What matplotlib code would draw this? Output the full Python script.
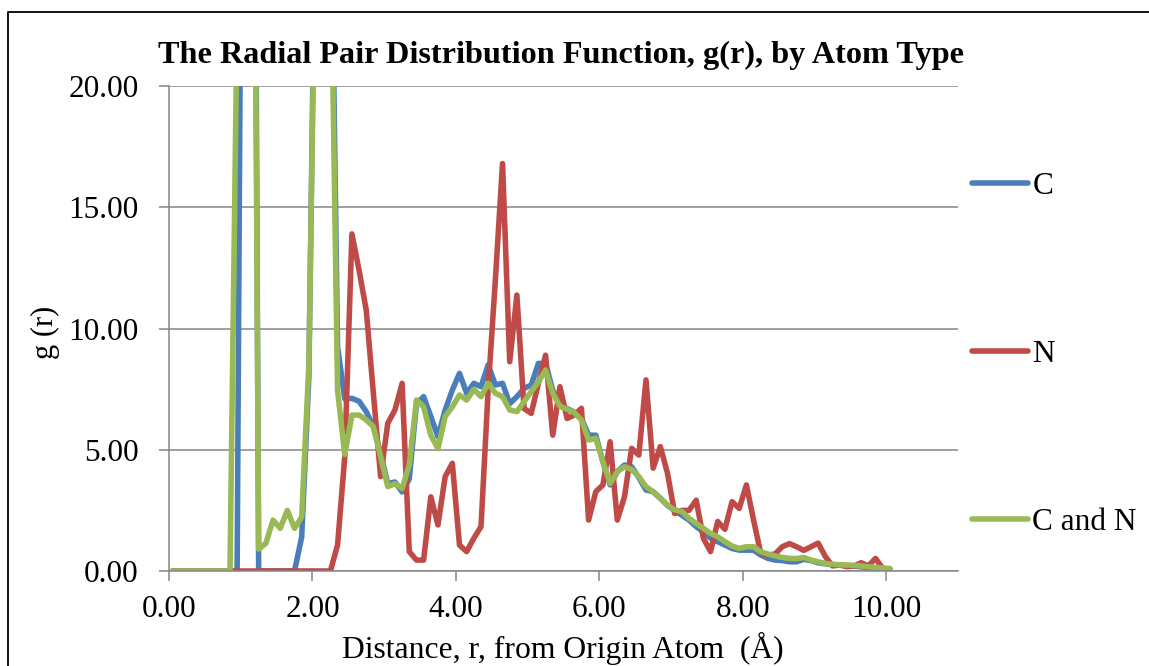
import matplotlib
matplotlib.use("Agg")
import matplotlib.pyplot as plt
from matplotlib.lines import Line2D

# distance bins (Angstrom)
r = [0.05, 0.15, 0.25, 0.35, 0.45, 0.55, 0.65, 0.75, 0.85, 0.95,
     1.05, 1.15, 1.25, 1.35, 1.45, 1.55, 1.65, 1.75, 1.85, 1.95,
     2.05, 2.15, 2.25, 2.35, 2.45, 2.55, 2.65, 2.75, 2.85, 2.95,
     3.05, 3.15, 3.25, 3.35, 3.45, 3.55, 3.65, 3.75, 3.85, 3.95,
     4.05, 4.15, 4.25, 4.35, 4.45, 4.55, 4.65, 4.75, 4.85, 4.95,
     5.05, 5.15, 5.25, 5.35, 5.45, 5.55, 5.65, 5.75, 5.85, 5.95,
     6.05, 6.15, 6.25, 6.35, 6.45, 6.55, 6.65, 6.75, 6.85, 6.95,
     7.05, 7.15, 7.25, 7.35, 7.45, 7.55, 7.65, 7.75, 7.85, 7.95,
     8.05, 8.15, 8.25, 8.35, 8.45, 8.55, 8.65, 8.75, 8.85, 8.95,
     9.05, 9.15, 9.25, 9.35, 9.45, 9.55, 9.65, 9.75, 9.85, 9.95,
     10.05]

g_c = [0, 0, 0, 0, 0, 0, 0, 0, 0, 0,
       50, 60, 0, 0, 0, 0, 0, 0, 1.4, 8,
       30, 50, 30, 9.25, 7.1, 7.12, 7.0, 6.57, 5.95, 4.85,
       3.6, 3.67, 3.26, 3.8, 6.9, 7.19, 6.37, 5.54, 6.64, 7.46,
       8.15, 7.33, 7.74, 7.6, 8.5, 7.67, 7.74, 6.9, 7.19, 7.53,
       7.67, 8.56, 8.56, 7.46, 6.8, 6.7, 6.55, 6.3, 5.6, 5.6,
       4.5, 3.55, 4.1, 4.37, 4.3, 3.85, 3.34, 3.27, 3.0, 2.7,
       2.5, 2.3, 2.1, 1.83, 1.62, 1.35, 1.21, 1.07, 0.93, 0.86,
       0.86, 0.86, 0.66, 0.52, 0.45, 0.43, 0.38, 0.38, 0.48, 0.43,
       0.34, 0.3, 0.26, 0.24, 0.22, 0.2, 0.17, 0.14, 0.12, 0.1,
       0.08]

g_n = [0, 0, 0, 0, 0, 0, 0, 0, 0, 0,
       0, 0, 0, 0, 0, 0, 0, 0, 0, 0,
       0, 0, 0, 1.07, 4.7, 13.9, 12.4, 10.76, 7.3, 3.89,
       6.09, 6.64, 7.74, 0.8, 0.45, 0.45, 3.06, 1.9, 3.89, 4.44,
       1.07, 0.8, 1.35, 1.83, 7.5, 12.0, 16.8, 8.63, 11.38, 6.7,
       6.5, 7.74, 8.9, 5.6, 7.6, 6.29, 6.43, 6.71, 2.1, 3.27,
       3.55, 5.33, 2.1, 3.06, 5.06, 4.78, 7.88, 4.24, 5.13, 4.03,
       2.37, 2.5, 2.5, 2.92, 1.35, 0.8, 2.04, 1.72, 2.86, 2.58,
       3.55, 2.1, 0.73, 0.66, 0.7, 1.0, 1.13, 1.0, 0.85, 1.0,
       1.15, 0.6, 0.21, 0.25, 0.18, 0.21, 0.34, 0.21, 0.52, 0.11,
       0.07]

g_cn = [0, 0, 0, 0, 0, 0, 0, 0, 0, 23,
        60, 50, 0.9, 1.14, 2.1, 1.76, 2.5, 1.76, 2.23, 8.5,
        28, 45, 27, 7.46, 4.8, 6.43, 6.43, 6.23, 5.95, 4.72,
        3.48, 3.6, 3.4, 4.37, 7.05, 6.77, 5.6, 5.05, 6.37, 6.77,
        7.26, 7.05, 7.49, 7.19, 7.74, 7.33, 7.19, 6.64, 6.57, 6.98,
        7.4, 7.8, 8.29, 7.33, 6.8, 6.67, 6.53, 6.23, 5.4, 5.47,
        4.51, 3.61, 4.1, 4.3, 4.19, 3.89, 3.48, 3.27, 3.0, 2.72,
        2.52, 2.45, 2.17, 1.96, 1.76, 1.55, 1.41, 1.21, 1.03, 0.93,
        1.0, 1.0, 0.79, 0.7, 0.62, 0.56, 0.52, 0.51, 0.56, 0.45,
        0.38, 0.31, 0.28, 0.25, 0.25, 0.23, 0.21, 0.18, 0.15, 0.12,
        0.1]

series_names = ["C", "N", "C and N"]
x_ticks = [0, 2, 4, 6, 8, 10]
y_ticks = [0, 5, 10, 15, 20]

plt.rcParams["font.family"] = ["Liberation Serif", "DejaVu Serif"]

fig = plt.figure(figsize=(11.49, 6.66), dpi=100)
ax = fig.add_axes([169 / 1149, 95 / 666, 789 / 1149, 485 / 666])

colors = ["#4A7EBB", "#BE4B48", "#98B954"]
for ys, name, col in zip([g_c, g_n, g_cn], series_names, colors):
    ax.plot(r, ys, color=col, lw=4.0, label=name,
            solid_joinstyle="round", solid_capstyle="round")

ax.set_xlim(0, 11)
ax.set_ylim(0, 20)
ax.set_xticks(x_ticks)
ax.set_yticks(y_ticks)
ax.set_xticklabels([f"{v:.2f}" for v in x_ticks])
ax.set_yticklabels([f"{v:.2f}" for v in y_ticks])

grid_col = "#868686"
ax.grid(axis="y", color=grid_col, lw=1.1)
ax.set_axisbelow(True)
for s in ["top", "right"]:
    ax.spines[s].set_visible(False)
for s in ["left", "bottom"]:
    ax.spines[s].set_color(grid_col)
    ax.spines[s].set_linewidth(1.1)
ax.tick_params(axis="both", colors=grid_col, length=7, width=1.1,
               labelsize=22.5, labelcolor="black")
ax.tick_params(axis="y", pad=15)
ax.tick_params(axis="x", pad=10)

fig.text(561 / 1149, 1 - 63.5 / 666,
         "The Radial Pair Distribution Function, g(r), by Atom Type",
         ha="center", va="baseline", fontsize=23.2, fontweight="bold")
fig.text(563 / 1149, 1 - 658 / 666, "Distance, r, from Origin Atom  (Å)",
         ha="center", va="baseline", fontsize=22.8)
fig.text(45 / 1149, 1 - 332 / 666, "g (r)", rotation=90,
         ha="center", va="center", fontsize=22)

ax.legend(loc="upper left", bbox_to_anchor=(972 / 1149, 1 - 172 / 666),
          bbox_transform=fig.transFigure, frameon=False, fontsize=22.5,
          handlelength=1.8, handletextpad=0.13, labelspacing=4.45,
          borderpad=0, borderaxespad=0)

# chart-area border (only left and top edges show in the crop)
fig.add_artist(Line2D([8 / 1149, 8 / 1149, 1.0], [0.0, 1 - 11.7 / 666, 1 - 11.7 / 666],
                      transform=fig.transFigure, color="black", lw=1.3))

fig.savefig("out.png", dpi=100)
